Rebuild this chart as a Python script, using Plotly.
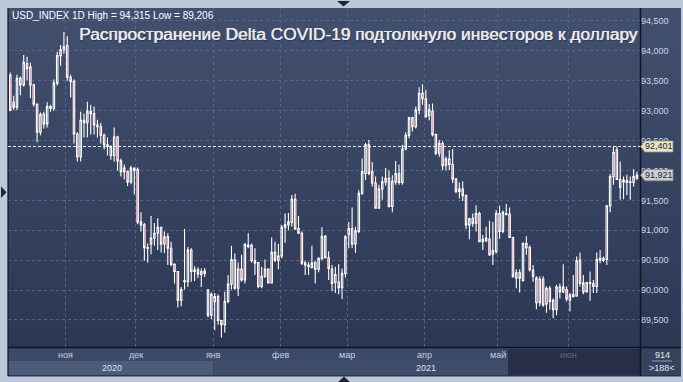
import plotly.graph_objects as go

# ---------------- data ----------------
opens = [93.59, 93.14, 93.06, 93.54, 93.43, 93.79, 93.73, 93.43, 93.11, 92.64,
         92.94, 92.78, 93.07, 93.04, 93.46, 93.92, 94.02, 94.09, 93.56, 93.49,
         92.61, 92.23, 92.84, 92.80, 92.99, 92.95, 92.76, 92.73, 92.59, 92.43,
         92.25, 92.25, 92.56, 92.16, 92.04, 91.98, 91.81, 92.04, 92.02, 91.14,
         91.09, 90.70, 90.77, 90.87, 90.95, 91.05, 90.77, 90.89, 90.70, 90.43,
         90.31, 89.83, 90.14, 90.14, 90.67, 90.31, 90.34, 90.26, 90.32, 90.00,
         89.58, 89.81, 89.89, 89.49, 89.42, 89.81, 90.10, 90.50, 90.03, 90.35,
         90.17, 90.73, 90.75, 90.49, 90.46, 90.06, 90.23, 90.35, 90.12, 90.63,
         90.50, 90.57, 91.05, 91.09, 91.13, 91.52, 91.03, 90.95, 90.42, 90.42,
         90.38, 90.46, 90.35, 90.53, 90.90, 90.54, 90.35, 90.13, 90.13, 90.04,
         90.28, 90.93, 91.03, 90.77, 90.98, 91.62, 91.95, 92.43, 91.98, 91.79,
         91.37, 91.69, 91.81, 91.87, 91.40, 91.81, 91.95, 91.80, 92.36, 92.59,
         92.88, 92.73, 93.01, 93.29, 93.20, 92.92, 92.99, 92.60, 92.29, 92.45,
         92.09, 92.19, 92.10, 91.86, 91.65, 91.69, 91.58, 91.09, 91.20, 91.12,
         91.28, 90.81, 90.83, 90.85, 90.60, 90.64, 91.28, 90.98, 91.26, 91.27,
         90.88, 90.20, 90.29, 90.16, 90.71, 90.71, 90.33, 89.79, 90.18, 90.18,
         89.77, 90.03, 89.83, 89.67, 90.05, 89.97, 90.01, 89.83, 89.89, 89.90,
         90.50, 89.97, 90.12, 90.11, 90.11, 90.06, 90.50, 90.50, 90.51, 91.41,
         91.90, 92.34, 91.85, 91.81, 91.80, 91.80, 91.80, 91.87]
highs = [93.64, 93.25, 93.60, 93.57, 93.93, 93.90, 93.80, 93.45, 93.12, 92.97,
         92.98, 93.14, 93.10, 93.52, 93.98, 94.10, 94.315, 94.25, 93.60, 93.52,
         92.64, 92.98, 92.95, 93.15, 93.10, 93.07, 92.85, 92.80, 92.62, 92.55,
         92.42, 92.72, 92.58, 92.20, 92.10, 92.00, 92.08, 92.05, 92.05, 91.30,
         91.12, 90.78, 91.24, 91.12, 91.20, 91.06, 90.98, 90.95, 90.81, 90.45,
         90.32, 90.05, 91.02, 90.72, 90.70, 90.40, 90.38, 90.36, 90.37, 90.02,
         89.96, 89.95, 89.93, 89.49, 89.97, 90.25, 90.74, 90.61, 90.46, 90.59,
         90.77, 90.95, 90.78, 90.70, 90.47, 90.39, 90.51, 90.36, 90.88, 90.81,
         90.77, 91.09, 91.28, 91.29, 91.59, 91.61, 91.24, 90.98, 90.49, 90.47,
         90.74, 90.48, 90.55, 91.05, 90.92, 90.65, 90.42, 90.39, 90.43, 90.36,
         90.92, 91.14, 91.38, 91.06, 91.67, 92.20, 92.46, 92.51, 92.14, 91.90,
         91.76, 91.90, 92.04, 92.00, 91.92, 92.16, 92.10, 92.43, 92.64, 92.90,
         92.90, 93.07, 93.39, 93.44, 93.35, 93.11, 93.12, 92.62, 92.51, 92.49,
         92.23, 92.34, 92.36, 91.87, 91.80, 91.82, 91.60, 91.21, 91.28, 91.42,
         91.31, 90.92, 91.06, 91.16, 91.14, 91.34, 91.41, 91.33, 91.44, 91.38,
         90.89, 90.35, 90.35, 90.80, 90.90, 90.75, 90.42, 90.23, 90.23, 90.23,
         90.06, 90.07, 89.86, 90.09, 90.11, 90.43, 90.06, 89.95, 90.25, 90.56,
         90.63, 90.25, 90.14, 90.31, 90.17, 90.63, 90.67, 90.56, 91.42, 91.94,
         92.401, 92.40, 92.15, 91.90, 91.93, 91.90, 92.02, 91.98]
lows = [92.99, 93.01, 93.01, 93.26, 93.40, 93.51, 93.21, 93.07, 92.47, 92.59,
        92.70, 92.72, 92.98, 93.00, 93.42, 93.75, 93.95, 93.50, 93.22, 92.45,
        92.15, 92.15, 92.55, 92.55, 92.60, 92.60, 92.55, 92.45, 92.35, 92.25,
        92.18, 92.15, 92.00, 91.90, 91.85, 91.74, 91.77, 91.60, 91.10, 90.98,
        90.49, 90.46, 90.60, 90.74, 90.67, 90.63, 90.62, 90.42, 90.40, 90.11,
        89.71, 89.73, 90.01, 90.05, 90.14, 90.15, 90.20, 90.05, 90.22, 89.54,
        89.51, 89.33, 89.42, 89.206, 89.29, 89.78, 90.01, 90.00, 89.90, 90.14,
        90.11, 90.70, 90.46, 90.25, 90.03, 90.03, 90.20, 90.11, 90.11, 90.47,
        90.35, 90.53, 90.79, 91.00, 91.06, 91.01, 90.95, 90.42, 90.25, 90.25,
        90.36, 90.11, 90.30, 90.50, 90.53, 90.17, 89.98, 89.95, 89.93, 89.85,
        90.21, 90.70, 90.70, 90.62, 90.95, 91.59, 91.84, 91.92, 91.73, 91.36,
        91.36, 91.51, 91.75, 91.38, 91.30, 91.76, 91.76, 91.76, 92.34, 92.54,
        92.65, 92.70, 92.94, 93.10, 92.88, 92.84, 92.57, 92.26, 92.23, 92.01,
        92.00, 92.01, 91.79, 91.62, 91.53, 91.49, 91.02, 90.85, 91.06, 90.98,
        90.80, 90.67, 90.80, 90.57, 90.42, 90.61, 90.86, 90.95, 91.25, 90.87,
        90.20, 90.03, 89.96, 90.14, 90.59, 90.31, 90.14, 89.68, 89.73, 89.72,
        89.62, 89.67, 89.53, 89.58, 89.86, 89.95, 89.81, 89.64, 89.88, 89.89,
        90.06, 89.93, 89.96, 89.82, 89.95, 89.95, 90.45, 90.47, 90.42, 91.30,
        91.76, 91.84, 91.51, 91.52, 91.59, 91.51, 91.73, 91.84]
closes = [93.01, 93.06, 93.54, 93.43, 93.81, 93.70, 93.43, 93.11, 92.64, 92.94,
          92.78, 93.07, 93.04, 93.46, 93.92, 94.02, 94.07, 93.56, 93.49, 92.61,
          92.23, 92.84, 92.80, 92.99, 92.95, 92.76, 92.73, 92.59, 92.43, 92.40,
          92.40, 92.56, 92.16, 91.98, 91.98, 91.81, 92.04, 92.00, 91.14, 91.09,
          90.71, 90.71, 90.87, 90.95, 91.05, 90.77, 90.89, 90.70, 90.43, 90.31,
          89.83, 90.01, 90.16, 90.67, 90.31, 90.34, 90.27, 90.31, 90.28, 89.58,
          89.93, 89.89, 89.49, 89.42, 89.81, 90.10, 90.51, 90.03, 90.35, 90.17,
          90.77, 90.75, 90.49, 90.45, 90.06, 90.23, 90.35, 90.12, 90.63, 90.50,
          90.57, 91.05, 91.09, 91.14, 91.52, 91.02, 90.95, 90.45, 90.45, 90.39,
          90.45, 90.35, 90.53, 90.90, 90.54, 90.36, 90.11, 90.26, 90.04, 90.28,
          90.89, 91.03, 90.77, 90.99, 91.62, 91.98, 92.43, 91.95, 91.79, 91.37,
          91.69, 91.81, 91.87, 91.40, 91.82, 91.95, 91.80, 92.36, 92.59, 92.88,
          92.73, 93.01, 93.29, 93.20, 92.90, 93.01, 92.60, 92.29, 92.45, 92.08,
          92.19, 92.10, 91.86, 91.65, 91.69, 91.58, 91.09, 91.19, 91.12, 91.28,
          90.81, 90.85, 90.87, 90.59, 90.66, 91.28, 90.98, 91.30, 91.28, 90.88,
          90.23, 90.29, 90.20, 90.78, 90.78, 90.34, 90.23, 90.20, 89.79, 89.75,
          90.03, 89.81, 89.67, 90.05, 89.97, 90.05, 89.85, 89.92, 89.92, 90.49,
          90.11, 90.12, 89.97, 90.12, 90.06, 90.51, 90.53, 90.53, 91.41, 91.90,
          92.30, 91.85, 91.72, 91.84, 91.83, 91.81, 91.90, 91.921]
bars = list(range(len(closes)))

month_labels = ["ноя", "дек", "янв", "фев", "мар", "апр", "май", "июн"]
month_first_bar = [17, 38, 61, 81, 101, 124, 146, 167]
year_labels = ["2020", "2021"]
y_ticks = [89.5, 90.0, 90.5, 91.0, 91.5, 92.0, 92.5, 93.0, 93.5, 94.0, 94.5]
y_ticktext = ["89,500", "90,000", "90,500", "91,000", "91,500", "92,000",
              "92,500", "93,000", "93,500", "94,000", "94,500"]
symbol = "USD_INDEX 1D"
high_val, low_val = 94.315, 89.206
level_line = 92.401
last_price = 91.921
bars_total, bars_shown = 914, 188
title = "Распространение Delta COVID-19 подтолкнуло инвесторов к доллару"

# ---------------- layout geometry ----------------
W, H = 683, 382
PL, PT, PR, PB = 8, 8, 43, 35
PW, PH = W - PL - PR, H - PT - PB
Y_RANGE = [89.048, 94.717]
X_RANGE = [-0.686, 187.91]

def ppx(x):
    return (x - PL) / PW

def ppy(y):
    return (PT + PH - y) / PH

def fmt(v):
    return f"{v:.3f}".replace(".", ",")

FONT = "Arial, Liberation Sans, sans-serif"

fig = go.Figure()
fig.add_trace(go.Candlestick(
    x=bars, open=opens, high=highs, low=lows, close=closes,
    increasing=dict(line=dict(color="#ffffff", width=1.1), fillcolor="rgba(0,0,0,0)"),
    decreasing=dict(line=dict(color="#ffffff", width=1.1), fillcolor="#e3173e"),
    whiskerwidth=0, hoverinfo="skip", showlegend=False,
))

shapes = []
# vertical gradient background (plot + right scale), drawn as thin bands
top_c, bot_c = (66, 80, 111), (42, 53, 81)
y0, y1 = 8, 376
n = 46
for k in range(n):
    a = y0 + (y1 - y0) * k / n
    b = y0 + (y1 - y0) * (k + 1) / n
    t = (k + 0.5) / n
    c = tuple(round(top_c[j] + (bot_c[j] - top_c[j]) * t) for j in range(3))
    shapes.append(dict(type="rect", xref="paper", yref="paper", layer="below",
                       x0=ppx(8), x1=ppx(681), y0=ppy(b + 0.5), y1=ppy(a),
                       fillcolor="rgb(%d,%d,%d)" % c, line=dict(width=0)))

def rect(x0, x1, ya, yb, color, layer="below"):
    shapes.append(dict(type="rect", xref="paper", yref="paper", layer=layer,
                       x0=ppx(x0), x1=ppx(x1), y0=ppy(yb), y1=ppy(ya),
                       fillcolor=color, line=dict(width=0)))

# bottom time scale panel
jan_x = PL + (month_first_bar[2] - 0.5 - X_RANGE[0]) / (X_RANGE[1] - X_RANGE[0]) * PW
rect(8, 640, 347, 361, "#3c4a68")
rect(8, jan_x, 361, 375, "#4c5c7b")
rect(jan_x, 508, 361, 375, "#3e4d6b")
rect(508, 640, 349, 375, "#262f47")
rect(641, 681, 348, 375, "#36435e")

def line(x0, y0_, x1, y1_, color, width, dash=None, layer="above"):
    d = dict(type="line", xref="paper", yref="paper", layer=layer,
             x0=ppx(x0), y0=ppy(y0_), x1=ppx(x1), y1=ppy(y1_),
             line=dict(color=color, width=width))
    if dash:
        d["line"]["dash"] = dash
    shapes.append(d)

line(8, 347.5, 681, 347.5, "#10151f", 1.5)
line(640.5, 8, 640.5, 376, "#10151f", 1.5)
line(8, 8, 8, 376, "#10151f", 1.2)
line(652, 361, 672, 361, "#aab4c6", 0.8)

# level line of the recent high
shapes.append(dict(type="line", xref="paper", yref="y", layer="above",
                   x0=0, x1=1, y0=level_line, y1=level_line,
                   line=dict(color="#eeeeee", width=1, dash="3px,2px")))

# price tags on the right scale
hh = 5.6 * (Y_RANGE[1] - Y_RANGE[0]) / PH
for val, fill in [(level_line, "#e3e4c8"), (last_price, "#c9ced7")]:
    path = (f"M {ppx(640.5)},{val} L {ppx(645)},{val + hh} L {ppx(673)},{val + hh} "
            f"L {ppx(673)},{val - hh} L {ppx(645)},{val - hh} Z")
    shapes.append(dict(type="path", xref="paper", yref="y", layer="above",
                       path=path, fillcolor=fill, line=dict(color="#8a8c80", width=0.8)))

# small navigation triangles
def tri(pts, color="#1d2537"):
    p = "M " + " L ".join(f"{ppx(x)},{ppy(y)}" for x, y in pts) + " Z"
    shapes.append(dict(type="path", xref="paper", yref="paper", layer="above",
                       path=p, fillcolor=color, line=dict(width=0)))

tri([(337, 1), (350, 1), (343.5, 6.5)])
tri([(338, 382), (350, 382), (344, 376.5)])
tri([(1, 186.5), (1, 198), (6.5, 192.2)])

ann = []
ann.append(dict(text=f"{symbol} High = {fmt(high_val)} Low = {fmt(low_val)}",
                xref="paper", yref="paper", x=ppx(10), y=ppy(15.5),
                xanchor="left", yanchor="middle", showarrow=False,
                font=dict(family=FONT, size=10, color="#ffffff")))
ann.append(dict(text=title, xref="paper", yref="paper", x=ppx(77), y=ppy(34),
                xanchor="left", yanchor="middle", showarrow=False,
                font=dict(family=FONT, size=17.3, color="#e8e9ec",
                          shadow="0.6px 0px 0px #e8e9ec, 1px 1px 1px rgba(0,0,0,0.35)")))
for lab, fb in zip(month_labels, month_first_bar):
    ann.append(dict(text=lab, xref="x", yref="paper", x=fb - 0.5, y=ppy(355),
                    xanchor="center", yanchor="middle", showarrow=False,
                    font=dict(family=FONT, size=9,
                              color="#5a6781" if lab == "июн" else "#c3cde0")))
ann.append(dict(text=year_labels[0], xref="paper", yref="paper", x=ppx(112), y=ppy(368),
                xanchor="center", yanchor="middle", showarrow=False,
                font=dict(family=FONT, size=9, color="#dde4ef")))
ann.append(dict(text=year_labels[1], xref="paper", yref="paper", x=ppx(426), y=ppy(368),
                xanchor="center", yanchor="middle", showarrow=False,
                font=dict(family=FONT, size=9, color="#dde4ef")))
ann.append(dict(text=str(bars_total), xref="paper", yref="paper", x=ppx(662), y=ppy(355),
                xanchor="center", yanchor="middle", showarrow=False,
                font=dict(family=FONT, size=9, color="#e2e8f2")))
ann.append(dict(text=f"&gt;{bars_shown}&lt;", xref="paper", yref="paper", x=ppx(662), y=ppy(368),
                xanchor="center", yanchor="middle", showarrow=False,
                font=dict(family=FONT, size=9, color="#e2e8f2")))
for val in [level_line, last_price]:
    ann.append(dict(text=fmt(val), xref="paper", yref="y", x=ppx(659), y=val,
                    xanchor="center", yanchor="middle", showarrow=False,
                    font=dict(family=FONT, size=9, color="#2a2a2a")))

fig.update_layout(
    width=W, height=H,
    margin=dict(l=PL, r=PR, t=PT, b=PB, pad=0),
    paper_bgcolor="#bdc9d8",
    plot_bgcolor="rgba(0,0,0,0)",
    boxgap=0.38,
    showlegend=False,
    shapes=shapes,
    annotations=ann,
    xaxis=dict(range=X_RANGE, rangeslider=dict(visible=False),
               tickvals=[b - 0.5 for b in month_first_bar], showticklabels=False,
               showgrid=True, gridcolor="#56648a", griddash="3px,3px", gridwidth=1,
               zeroline=False, showline=False, ticks="", fixedrange=True),
    yaxis=dict(range=Y_RANGE, side="right", tickvals=y_ticks, ticktext=y_ticktext,
               tickfont=dict(family=FONT, size=9, color="#c9d6ec"),
               showgrid=True, gridcolor="#56648a", griddash="3px,3px", gridwidth=1,
               zeroline=False, showline=False, ticks="", fixedrange=True),
)

fig.write_html("out.html")
